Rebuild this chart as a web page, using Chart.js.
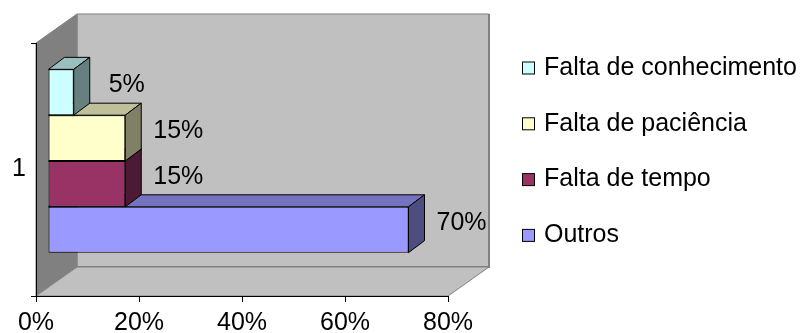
<!DOCTYPE html>
<html>
<head>
<meta charset="utf-8">
<title>Chart</title>
<script src="https://cdn.jsdelivr.net/npm/chart.js@4/dist/chart.umd.min.js"></script>
<style>
    html, body { margin: 0; padding: 0; background: #fff; }
    canvas { display: block; }
</style>
</head>
<body>
<canvas id="chart" width="809" height="333"></canvas>
<script>
// Chart data
const categories = ['1'];
const seriesNames = ['Falta de conhecimento', 'Falta de paciência', 'Falta de tempo', 'Outros'];
const seriesValues = [5, 15, 15, 70];
const seriesColors = ['#CCFFFF', '#FFFFCC', '#993366', '#9999FF'];
const xTicks = [0, 20, 40, 60, 80];

const FONT_FAMILY = '"Liberation Sans", Arial, sans-serif';
const FONT_SIZE = 25;

// 3D geometry (pixels)
const WALL_DEPTH = { x: 41, y: -29 };
const BAR_SHIFT = { x: 12, y: -8.5 };
const BAR_DEPTH = { x: 16, y: -12 };

// Darken a hex colour by a factor
function shade(hex, f) {
    const n = parseInt(hex.slice(1), 16);
    const r = Math.round(((n >> 16) & 255) * f);
    const g = Math.round(((n >> 8) & 255) * f);
    const b = Math.round((n & 255) * f);
    return `rgb(${r}, ${g}, ${b})`;
}

function polygon(ctx, pts, fill, stroke, width) {
    ctx.beginPath();
    ctx.moveTo(pts[0][0], pts[0][1]);
    for (let i = 1; i < pts.length; i++) ctx.lineTo(pts[i][0], pts[i][1]);
    ctx.closePath();
    if (fill) { ctx.fillStyle = fill; ctx.fill(); }
    if (stroke) { ctx.strokeStyle = stroke; ctx.lineWidth = width || 1; ctx.stroke(); }
}

// Walls, bar extrusions, value labels and legend
const threeDPlugin = {
    id: 'threeD',
    beforeDraw(chart) {
        const ctx = chart.ctx;
        const a = chart.chartArea;
        const dx = WALL_DEPTH.x, dy = WALL_DEPTH.y;
        ctx.save();
        // back wall
        polygon(ctx, [[a.left + dx, a.top + dy], [a.right + dx, a.top + dy],
                      [a.right + dx, a.bottom + dy], [a.left + dx, a.bottom + dy]], '#C0C0C0', '#808080', 1);
        ctx.beginPath();
        ctx.moveTo(a.left + dx, a.bottom + dy);
        ctx.lineTo(a.right + dx, a.bottom + dy);
        ctx.lineTo(a.right + dx, a.top + dy);
        ctx.strokeStyle = '#808080';
        ctx.lineWidth = 2;
        ctx.stroke();
        // left wall
        polygon(ctx, [[a.left, a.top], [a.left + dx, a.top + dy],
                      [a.left + dx, a.bottom + dy], [a.left, a.bottom]], '#808080', '#808080', 1);
        // floor
        polygon(ctx, [[a.left, a.bottom], [a.right, a.bottom],
                      [a.right + dx, a.bottom + dy], [a.left + dx, a.bottom + dy]], '#C0C0C0', '#808080', 1);
        ctx.restore();
    },
    beforeDatasetsDraw(chart) {
        const ctx = chart.ctx;
        ctx.save();
        ctx.translate(BAR_SHIFT.x, BAR_SHIFT.y);
        // draw from the bottom bar upwards so upper bars cover lower top faces
        for (let i = chart.data.datasets.length - 1; i >= 0; i--) {
            const bar = chart.getDatasetMeta(i).data[0];
            const p = bar.getProps(['x', 'y', 'base', 'height'], true);
            const top = p.y - p.height / 2, bottom = p.y + p.height / 2;
            const color = chart.data.datasets[i].backgroundColor;
            const dx = BAR_DEPTH.x, dy = BAR_DEPTH.y;
            polygon(ctx, [[p.base, top], [p.x, top], [p.x + dx, top + dy], [p.base + dx, top + dy]],
                    shade(color, 0.75), '#000', 1);
            polygon(ctx, [[p.x, top], [p.x + dx, top + dy], [p.x + dx, bottom + dy], [p.x, bottom]],
                    shade(color, 0.5), '#000', 1);
        }
    },
    afterDatasetsDraw(chart) {
        const ctx = chart.ctx;
        // value labels, still in the shifted bar plane
        ctx.font = `${FONT_SIZE}px ${FONT_FAMILY}`;
        ctx.fillStyle = '#000';
        ctx.textAlign = 'center';
        ctx.textBaseline = 'middle';
        chart.data.datasets.forEach((ds, i) => {
            const bar = chart.getDatasetMeta(i).data[0];
            ctx.fillText(ds.data[0] + '%', bar.x + 53, bar.y - 7);
        });
        ctx.restore();
    },
    afterDraw(chart) {
        const ctx = chart.ctx;
        ctx.save();
        ctx.font = `${FONT_SIZE}px ${FONT_FAMILY}`;
        ctx.textAlign = 'left';
        ctx.textBaseline = 'middle';
        chart.data.datasets.forEach((ds, i) => {
            const y = 68 + i * 55.8;
            ctx.fillStyle = ds.backgroundColor;
            ctx.fillRect(522.5, y - 6, 12, 12);
            ctx.strokeStyle = '#000';
            ctx.lineWidth = 1;
            ctx.strokeRect(522.5, y - 6, 12, 12);
            ctx.fillStyle = '#000';
            ctx.fillText(ds.label, 544, y);
        });
        ctx.restore();
    }
};

const tickFont = { family: FONT_FAMILY, size: FONT_SIZE };

new Chart(document.getElementById('chart'), {
    type: 'bar',
    data: {
        labels: categories,
        datasets: seriesNames.map((name, i) => ({
            label: name,
            data: [seriesValues[i]],
            backgroundColor: seriesColors[i],
            borderColor: '#000',
            borderWidth: 1,
            borderSkipped: false,
            categoryPercentage: 0.7245,
            barPercentage: 1,
            clip: false
        }))
    },
    options: {
        indexAxis: 'y',
        responsive: false,
        animation: false,
        layout: { padding: { top: 43, right: 361, left: 0, bottom: 0 } },
        plugins: {
            legend: { display: false },
            tooltip: { enabled: false }
        },
        scales: {
            x: {
                type: 'linear',
                min: 0,
                max: 80,
                afterBuildTicks: scale => { scale.ticks = xTicks.map(v => ({ value: v })); },
                afterFit: scale => { scale.height = 37; },
                ticks: { callback: v => v + '%', font: tickFont, color: '#000', padding: 6, maxRotation: 0 },
                grid: { drawOnChartArea: false, tickLength: 6, color: '#000' },
                border: { color: '#000', width: 1 }
            },
            y: {
                afterFit: scale => { scale.width = 36; },
                ticks: { font: tickFont, color: '#000', padding: 5 },
                grid: { drawOnChartArea: false, tickLength: 5, color: '#000', offset: true },
                border: { color: '#000', width: 1 }
            }
        }
    },
    plugins: [threeDPlugin]
});
</script>
</body>
</html>
